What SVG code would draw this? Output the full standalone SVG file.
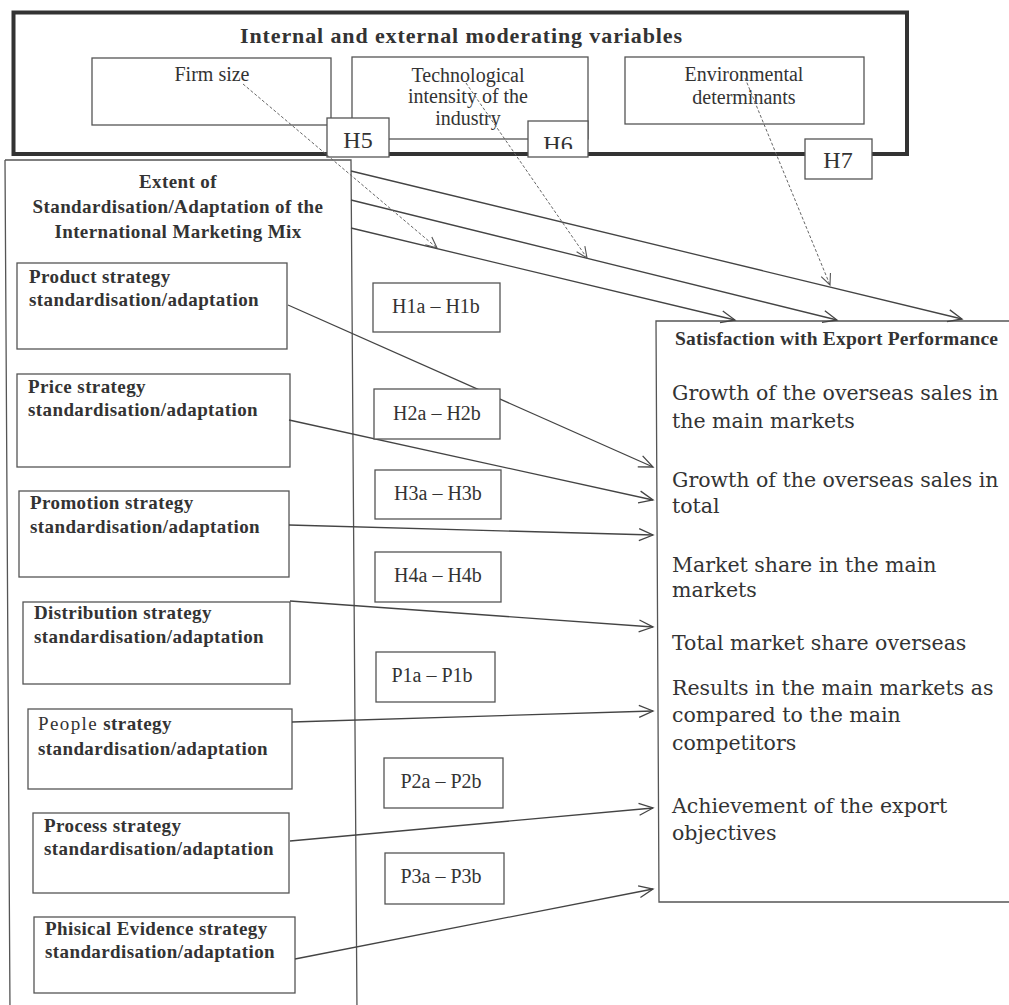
<svg xmlns="http://www.w3.org/2000/svg" width="1009" height="1005" viewBox="0 0 1009 1005">
<style>
.bg{fill:#fff}
.box{fill:#fff;stroke:#555;stroke-width:1.3}
.thick{fill:none;stroke:#333;stroke-width:4}
.t{font-family:"Liberation Serif","Times New Roman",serif;fill:#333;font-size:19px}
.r{font-size:20px}
.c{text-anchor:middle}
.b{font-weight:bold}
.s{font-weight:bold;letter-spacing:0.4px}
.h{font-size:24px}
.lab{font-size:20px}
.title{font-size:22px;font-weight:bold}
.sat{font-size:19.5px;font-weight:bold}
.perf{font-family:"DejaVu Serif",Georgia,serif;font-size:20.5px;fill:#333}
.conn{stroke:#444;stroke-width:1.3;fill:none;marker-end:url(#arr)}
.dash{stroke:#666;stroke-width:1;stroke-dasharray:3 2;fill:none;marker-end:url(#arrd)}
</style>
<defs>
<marker id="arr" markerUnits="userSpaceOnUse" markerWidth="16" markerHeight="14" refX="14" refY="6" orient="auto" overflow="visible">
<path d="M0,0 L14,6 L0,12" fill="none" stroke="#444" stroke-width="1.3"/>
</marker>
<marker id="arrd" markerUnits="userSpaceOnUse" markerWidth="12" markerHeight="12" refX="11" refY="5" orient="auto" overflow="visible">
<path d="M0,0 L11,5 L0,10" fill="none" stroke="#555" stroke-width="1.1"/>
</marker>
<clipPath id="h6clip"><rect x="528" y="121" width="60" height="28"/></clipPath>
</defs>
<rect class="bg" x="0" y="0" width="1009" height="1005"/>

<g id="moderators">
<rect class="thick" x="13.5" y="12.5" width="893.5" height="141.5"/>
<text class="t title c" x="461" y="43" textLength="442">Internal and external moderating variables</text>
</g>
<g id="firm-size">
<rect class="box" x="92" y="58" width="239" height="67"/>
<text class="t r c" x="212" y="81">Firm size</text>
</g>
<g id="tech-intensity">
<rect class="box" x="352" y="57" width="236" height="82"/>
<text class="t r c" x="468" y="82">Technological</text>
<text class="t r c" x="468" y="103">intensity of the</text>
<text class="t r c" x="468" y="125">industry</text>
</g>
<g id="environmental">
<rect class="box" x="625" y="57" width="239" height="67"/>
<text class="t r c" x="744" y="81">Environmental</text>
<text class="t r c" x="744" y="104">determinants</text>
</g>
<g id="h5">
<rect class="box" x="327" y="118" width="62" height="39"/>
<text class="t c h" x="358" y="148">H5</text>
</g>
<g id="h6">
<rect class="box" x="528" y="121" width="60" height="36"/>
<text class="t c h" x="558" y="152" clip-path="url(#h6clip)">H6</text>
</g>
<g id="h7">
<rect class="box" x="805" y="139" width="67" height="40"/>
<text class="t c h" x="838" y="168">H7</text>
</g>

<g id="marketing-mix">
<path d="M5,160 L351,160 L357,1012 M5,160 L10,1012" fill="none" stroke="#555" stroke-width="1.3"/>
<text class="t c s" x="178" y="188">Extent of</text>
<text class="t c s" x="178" y="213">Standardisation/Adaptation of the</text>
<text class="t c s" x="178" y="238">International Marketing Mix</text>
</g>
<g id="product">
<rect class="box" x="17" y="263" width="270" height="86"/>
<text class="t s" x="29" y="283">Product strategy</text>
<text class="t s" x="29" y="306">standardisation/adaptation</text>
</g>
<g id="price">
<rect class="box" x="17" y="374" width="273" height="93"/>
<text class="t s" x="28" y="393">Price strategy</text>
<text class="t s" x="28" y="416">standardisation/adaptation</text>
</g>
<g id="promotion">
<rect class="box" x="19" y="491" width="270" height="86"/>
<text class="t s" x="30" y="509">Promotion strategy</text>
<text class="t s" x="30" y="533">standardisation/adaptation</text>
</g>
<g id="distribution">
<rect class="box" x="23" y="602" width="267" height="82"/>
<text class="t s" x="34" y="619">Distribution strategy</text>
<text class="t s" x="34" y="643">standardisation/adaptation</text>
</g>
<g id="people">
<rect class="box" x="28" y="709" width="264" height="80"/>
<text class="t s" x="38" y="730"><tspan font-weight="normal" letter-spacing="1.4">People</tspan> strategy</text>
<text class="t s" x="38" y="755">standardisation/adaptation</text>
</g>
<g id="process">
<rect class="box" x="33" y="813" width="256" height="80"/>
<text class="t s" x="44" y="832">Process strategy</text>
<text class="t s" x="44" y="855">standardisation/adaptation</text>
</g>
<g id="physical-evidence">
<rect class="box" x="34" y="917" width="261" height="76"/>
<text class="t s" x="45" y="935">Phisical Evidence strategy</text>
<text class="t s" x="45" y="958">standardisation/adaptation</text>
</g>

<g id="export-performance">
<path d="M1012,321 L656,321 L659,902 L1012,902" fill="#fff" stroke="#555" stroke-width="1.3"/>
<text class="t sat" x="675" y="345" textLength="323">Satisfaction with Export Performance</text>
<text class="perf" x="672" y="400">Growth of the overseas sales in</text>
<text class="perf" x="672" y="428">the main markets</text>
<text class="perf" x="672" y="487">Growth of the overseas sales in</text>
<text class="perf" x="672" y="513">total</text>
<text class="perf" x="672" y="572">Market share in the main</text>
<text class="perf" x="672" y="597">markets</text>
<text class="perf" x="672" y="650">Total market share overseas</text>
<text class="perf" x="672" y="695">Results in the main markets as</text>
<text class="perf" x="672" y="722">compared to the main</text>
<text class="perf" x="672" y="750">competitors</text>
<text class="perf" x="672" y="813">Achievement of the export</text>
<text class="perf" x="672" y="840">objectives</text>
</g>

<g id="connectors">
<line class="conn" x1="351" y1="171" x2="962" y2="319"/>
<line class="conn" x1="351" y1="200" x2="837" y2="320"/>
<line class="conn" x1="351" y1="228" x2="735" y2="320"/>
<line class="dash" x1="243" y1="84" x2="437" y2="248"/>
<line class="dash" x1="466" y1="83" x2="587" y2="258"/>
<line class="dash" x1="745" y1="78" x2="830" y2="285"/>
<line class="conn" x1="288" y1="305" x2="653" y2="467"/>
<line class="conn" x1="289" y1="420" x2="653" y2="500"/>
<line class="conn" x1="289" y1="525" x2="653" y2="535"/>
<line class="conn" x1="290" y1="601" x2="653" y2="627"/>
<line class="conn" x1="292" y1="722" x2="653" y2="711"/>
<line class="conn" x1="290" y1="841" x2="653" y2="808"/>
<line class="conn" x1="295" y1="959" x2="653" y2="889"/>
</g>

<g id="h1">
<rect class="box" x="373" y="283" width="127" height="49"/>
<text class="t c lab" x="436" y="313">H1a – H1b</text>
</g>
<g id="h2">
<rect class="box" x="374" y="389" width="126" height="50"/>
<text class="t c lab" x="437" y="420">H2a – H2b</text>
</g>
<g id="h3">
<rect class="box" x="375" y="470" width="126" height="49"/>
<text class="t c lab" x="438" y="500">H3a – H3b</text>
</g>
<g id="h4">
<rect class="box" x="375" y="552" width="126" height="50"/>
<text class="t c lab" x="438" y="582">H4a – H4b</text>
</g>
<g id="p1">
<rect class="box" x="376" y="652" width="119" height="50"/>
<text class="t c lab" x="432" y="682">P1a – P1b</text>
</g>
<g id="p2">
<rect class="box" x="384" y="758" width="119" height="50"/>
<text class="t c lab" x="441" y="788">P2a – P2b</text>
</g>
<g id="p3">
<rect class="box" x="385" y="853" width="119" height="51"/>
<text class="t c lab" x="441" y="883">P3a – P3b</text>
</g>
</svg>
